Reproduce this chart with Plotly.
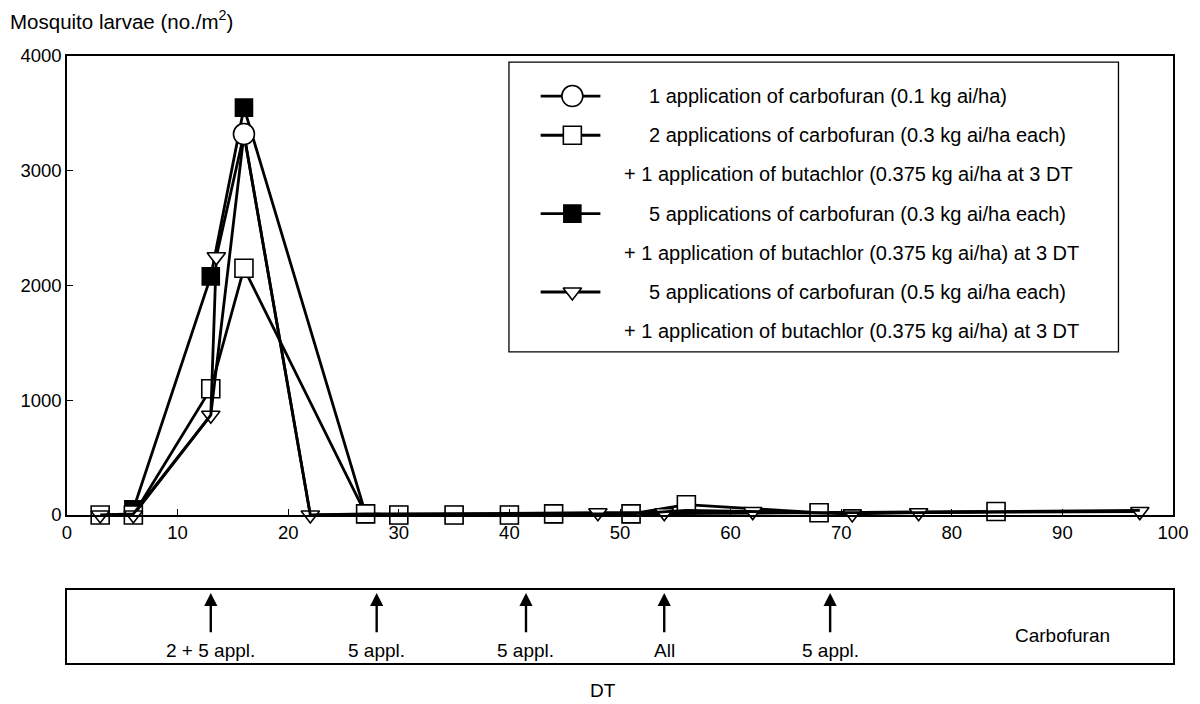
import plotly.graph_objects as go

# ---------------- data ----------------
circle_days = [3, 6, 13, 16, 22, 27, 35, 44, 51, 56, 62, 68, 77, 84, 97]
circle_vals = [0, 10, 870, 3320, 0, 10, 10, 10, 10, 40, 30, 20, 20, 30, 40]

open_days = [3, 6, 13, 16, 27, 30, 35, 40, 44, 51, 56, 68, 84]
open_vals = [0, 0, 1100, 2150, 10, 0, 0, 0, 10, 10, 90, 20, 30]

filled_days = [6, 13, 16, 27, 30, 35, 40, 44, 51, 68, 84]
filled_vals = [50, 2080, 3550, 10, 0, 0, 0, 10, 10, 20, 30]

triangle_days = [3, 6, 13, 13.5, 16, 22, 48, 54, 62, 71, 77, 97]
triangle_vals = [0, 0, 870, 2250, 3320, 0, 20, 20, 30, 10, 20, 30]

appl_days = [13, 28, 41.5, 54, 69]
appl_labels = ["2 + 5 appl.", "5 appl.", "5 appl.", "All", "5 appl."]

legend_rows = [
    ("1 application of carbofuran (0.1 kg ai/ha)", "circle"),
    ("2 applications of carbofuran (0.3 kg ai/ha each)", "square"),
    ("+ 1 application of butachlor (0.375 kg ai/ha at 3 DT", None),
    ("5 applications of carbofuran (0.3 kg ai/ha each)", "filled"),
    ("+ 1 application of butachlor (0.375 kg ai/ha) at 3 DT", None),
    ("5 applications of carbofuran (0.5 kg ai/ha each)", "triangle"),
    ("+ 1 application of butachlor (0.375 kg ai/ha) at 3 DT", None),
]

FONT = "Liberation Sans, Arial, sans-serif"
LW = 2.8
FS = 19

styles = {
    "circle": dict(symbol="circle", color="white", size=21),
    "square": dict(symbol="square", color="white", size=18),
    "filled": dict(symbol="square", color="black", size=17),
    "triangle": dict(symbol="triangle-down", color="white", size=16),
}

fig = go.Figure()


def add_series(days, vals, key, sizes=None):
    st = styles[key]
    fig.add_trace(go.Scatter(
        x=days, y=vals, mode="lines+markers",
        line=dict(color="black", width=LW),
        marker=dict(symbol=st["symbol"], color=st["color"], opacity=1,
                    size=sizes if sizes is not None else st["size"],
                    line=dict(color="black", width=1.6)),
        cliponaxis=False, showlegend=False, hoverinfo="skip",
        xaxis="x", yaxis="y"))


add_series(filled_days, filled_vals, "filled")
add_series(open_days, open_vals, "square")
add_series(triangle_days, triangle_vals, "triangle")
circle_sizes = [styles["circle"]["size"] if v >= 1000 else 0 for v in circle_vals]
add_series(circle_days, circle_vals, "circle", circle_sizes)

# ---------------- legend (drawn manually) ----------------
annotations = []
for i, (txt, key) in enumerate(legend_rows):
    if key is not None:
        st = styles[key]
        fig.add_trace(go.Scatter(
            x=[0.052, 0.104, 0.150], y=[i, i, i], mode="lines+markers",
            line=dict(color="black", width=LW),
            marker=dict(symbol=st["symbol"], color=st["color"], opacity=1,
                        size=[0, st["size"], 0],
                        line=dict(color="black", width=1.6)),
            cliponaxis=False, showlegend=False, hoverinfo="skip",
            xaxis="x3", yaxis="y3"))
        xpos = 0.226
    else:
        xpos = 0.185
    annotations.append(dict(x=xpos, y=i, xref="x3", yref="y3", text=txt,
                            showarrow=False, xanchor="left", yanchor="middle",
                            font=dict(size=FS + 1, color="black", family=FONT)))

# ---------------- application arrows ----------------
for d, lab in zip(appl_days, appl_labels):
    annotations.append(dict(x=d, y=0.96, xref="x2", yref="y2", ax=d, ay=0.40,
                            axref="x2", ayref="y2", text="", showarrow=True,
                            arrowhead=2, arrowsize=1.1, arrowwidth=2.4,
                            arrowcolor="black"))
    annotations.append(dict(x=d, y=0.165, xref="x2", yref="y2", text=lab,
                            showarrow=False, xanchor="center", yanchor="middle",
                            font=dict(size=FS, color="black", family=FONT)))
annotations.append(dict(x=90, y=0.37, xref="x2", yref="y2", text="Carbofuran",
                        showarrow=False, xanchor="center", yanchor="middle",
                        font=dict(size=FS, color="black", family=FONT)))

annotations.append(dict(x=0.485, y=-0.0445, xref="paper", yref="paper", text="DT",
                        showarrow=False, xanchor="center", yanchor="middle",
                        font=dict(size=FS, color="black", family=FONT)))
annotations.append(dict(x=-0.0529, y=1.0593, xref="paper", yref="paper",
                        text="Mosquito larvae (no./m<sup>2</sup>)",
                        showarrow=False, xanchor="left", yanchor="middle",
                        font=dict(size=20.5, color="black", family=FONT)))

axis_common = dict(showgrid=False, zeroline=False, showline=True, mirror=True,
                   linecolor="black", linewidth=1.5,
                   tickfont=dict(size=18.5, color="black", family=FONT))

LEG_X = [0.3996, 0.9507]
LEG_Y = [0.5124, 0.990]

fig.update_layout(
    width=1200, height=704,
    margin=dict(l=67, r=17, t=56, b=41),
    paper_bgcolor="white", plot_bgcolor="rgba(0,0,0,0)",
    xaxis=dict(domain=[0, 1], range=[0, 100], anchor="y",
               tickmode="array", tickvals=list(range(0, 101, 10)),
               ticks="inside", ticklen=6, tickcolor="black",
               ticklabeloverflow="allow", **axis_common),
    yaxis=dict(domain=[0.2438, 1], range=[0, 4000], anchor="x",
               tickmode="array", tickvals=[0, 1000, 2000, 3000, 4000],
               ticks="inside", ticklen=6, tickcolor="black",
               ticklabeloverflow="allow", **axis_common),
    xaxis2=dict(domain=[0, 1], range=[0, 100], anchor="y2",
                showticklabels=False, ticks="", **axis_common),
    yaxis2=dict(domain=[0, 0.1203], range=[0, 1], anchor="x2",
                showticklabels=False, ticks="", **axis_common),
    xaxis3=dict(domain=LEG_X, range=[0, 1], anchor="y3", visible=False),
    yaxis3=dict(domain=LEG_Y, range=[6.53, -0.867], anchor="x3", visible=False),
    shapes=[dict(type="rect", xref="paper", yref="paper",
                 x0=LEG_X[0], x1=LEG_X[1], y0=LEG_Y[0], y1=LEG_Y[1],
                 line=dict(color="black", width=1.3), fillcolor="rgba(0,0,0,0)")],
    annotations=annotations,
    showlegend=False,
)

fig.write_html("out.html", config={"displayModeBar": False},
               post_script="document.body.style.margin='0';document.body.style.overflow='hidden';")
